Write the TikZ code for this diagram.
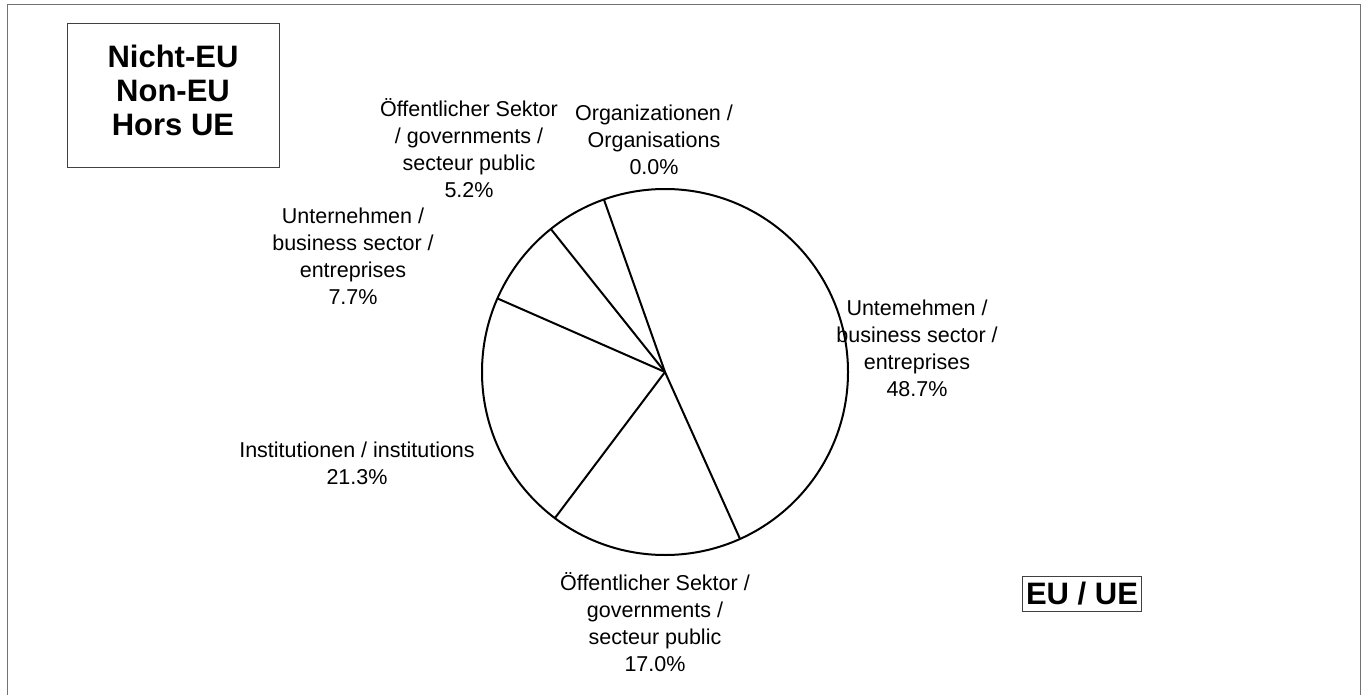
\documentclass[tikz,border=0pt]{standalone}
\usepackage{fontspec}
\setmainfont{Liberation Sans}
\tikzset{
  lbl/.style={align=center, inner sep=0pt, font=\fontsize{21.5}{27}\selectfont},
  tag/.style={align=center, inner sep=0pt, font=\fontsize{31}{34}\selectfont\bfseries},
  wedge/.style={line width=2pt},
  thinbox/.style={draw=black!75, line width=1pt},
}
\begin{document}
\begin{tikzpicture}[x=1pt,y=-1pt]
  \useasboundingbox (0,0) rectangle (1368,695);
  % outer frame (open at the bottom)
  \draw[thinbox, draw=black!55] (7,695) -- (7,5) -- (1360,5) -- (1360,695);
  % region tags
  \draw[thinbox] (67,24) rectangle (279,168);
  \node[tag] (noneu) at (173,90) {Nicht-EU\\Non-EU\\Hors UE};
  \node[tag, thinbox, inner xsep=4pt, inner ysep=6pt] (eu) at (1082,594) {EU / UE};
  % pie (y axis points down, so angles are negated)
  \coordinate (c) at (665,372);
  \draw[wedge] (c) circle (183pt);
  \foreach \a in {-109.5,65.8,127,-156.3,-128.6}
    \draw[wedge] (c) -- ++(\a:183);
  % slice labels
  \node[lbl] (org) at (654,140) {Organizationen /\\Organisations\\0.0\%};
  \node[lbl] (pubnon) at (469,148) {Öffentlicher Sektor\\/ governments /\\secteur public\\5.2\%};
  \node[lbl] (busnon) at (353,256) {Unternehmen /\\business sector /\\entreprises\\7.7\%};
  \node[lbl] (inst) at (357,463) {Institutionen / institutions\\21.3\%};
  \node[lbl] (pubeu) at (655,622) {Öffentlicher Sektor /\\governments /\\secteur public\\17.0\%};
  \node[lbl] (buseu) at (917,348) {Untemehmen /\\business sector /\\entreprises\\48.7\%};
\end{tikzpicture}
\end{document}
